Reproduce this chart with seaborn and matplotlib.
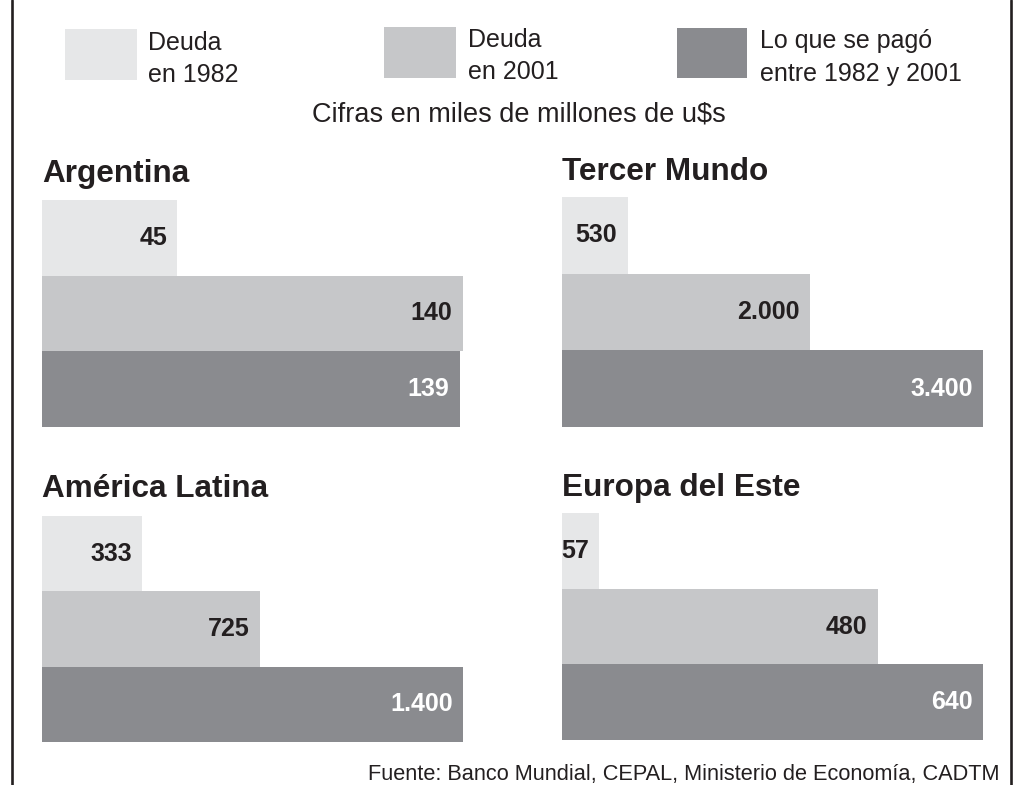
import matplotlib
matplotlib.use("Agg")
import matplotlib.pyplot as plt
from matplotlib.patches import Rectangle
from matplotlib.lines import Line2D
import pandas as pd
import seaborn as sns

# ---- data ----
regions = ["Argentina", "Tercer Mundo", "América Latina", "Europa del Este"]
series = ["Deuda en 1982", "Deuda en 2001", "Lo que se pagó entre 1982 y 2001"]
legend_labels = [["Deuda", "en 1982"], ["Deuda", "en 2001"], ["Lo que se pagó", "entre 1982 y 2001"]]
deuda_1982 = [45, 530, 333, 57]
deuda_2001 = [140, 2000, 725, 480]
pagado = [139, 3400, 1400, 640]
subtitle = "Cifras en miles de millones de u$s"
source = "Fuente: Banco Mundial, CEPAL, Ministerio de Economía, CADTM"

colors = ["#e6e7e8", "#c6c7c9", "#8a8b8f"]
label_colors = ["#231f20", "#231f20", "#ffffff"]
TXT = "#231f20"

rows = []
for i, r in enumerate(regions):
    for s, vals in zip(series, [deuda_1982, deuda_2001, pagado]):
        rows.append({"region": r, "serie": s, "valor": vals[i]})
df = pd.DataFrame(rows)

sns.set_theme(style="white")
plt.rcParams["font.family"] = ["Liberation Sans", "DejaVu Sans"]

W, H = 1019, 785
fig = plt.figure(figsize=(W / 100, H / 100), dpi=100)


def fx(x):
    return x / W


def fy(y):
    return 1 - y / H


# panel boxes in pixels: left, top, bottom ; title baseline
panels = {
    "Argentina": (42, 200, 427, 182),
    "Tercer Mundo": (562, 197, 427, 180),
    "América Latina": (42, 516, 742, 497),
    "Europa del Este": (562, 513, 740, 496),
}
BAR_W = 421

palette = dict(zip(series, colors))
for region in regions:
    left, top, bottom, tbase = panels[region]
    ax = fig.add_axes([fx(left), fy(bottom), BAR_W / W, (bottom - top) / H])
    sub = df[df["region"] == region]
    sns.barplot(data=sub, x="valor", y="serie", hue="serie", order=series,
                hue_order=series, palette=palette, width=1.0, saturation=1,
                orient="h", legend=False, linewidth=0, ax=ax)
    ax.set_xlim(0, sub["valor"].max())
    ax.set_ylim(2.5, -0.5)
    ax.set_axis_off()
    for k, s in enumerate(series):
        for p in ax.containers[k]:
            v = p.get_width()
            lbl = f"{int(round(v)):,}".replace(",", ".")
            ax.annotate(lbl, (v, p.get_y() + p.get_height() / 2),
                        xytext=(-7.5, 0), textcoords="offset points",
                        ha="right", va="center", fontsize=18,
                        fontweight="bold", color=label_colors[k])
    fig.text(fx(left), fy(tbase), region, fontsize=22.7, fontweight="bold",
             color=TXT, ha="left", va="baseline")

# legend (manual, figure coordinates)
leg_boxes = [(65, 29, 137, 80), (384, 27, 456, 78), (677, 28, 747, 78)]
leg_text = [(148, 50, 82), (468, 47, 79), (760, 48, 81)]
for (x0, y0, x1, y1), (tx, b1, b2), c, lines in zip(leg_boxes, leg_text, colors, legend_labels):
    fig.add_artist(Rectangle((fx(x0), fy(y1)), (x1 - x0) / W, (y1 - y0) / H,
                             transform=fig.transFigure, facecolor=c, edgecolor="none"))
    fig.text(fx(tx), fy(b1), lines[0], fontsize=18, color=TXT, ha="left", va="baseline")
    fig.text(fx(tx), fy(b2), lines[1], fontsize=18, color=TXT, ha="left", va="baseline")

fig.text(fx(519), fy(122), subtitle, fontsize=19.5, color=TXT, ha="center", va="baseline")
fig.text(fx(999), fy(780), source, fontsize=15.7, color=TXT, ha="right", va="baseline")

# side border lines
for x in (12, 1011):
    fig.add_artist(Line2D([fx(x), fx(x)], [0, 1], transform=fig.transFigure,
                          color=TXT, linewidth=1.9))

fig.savefig("out.png", dpi=100)
